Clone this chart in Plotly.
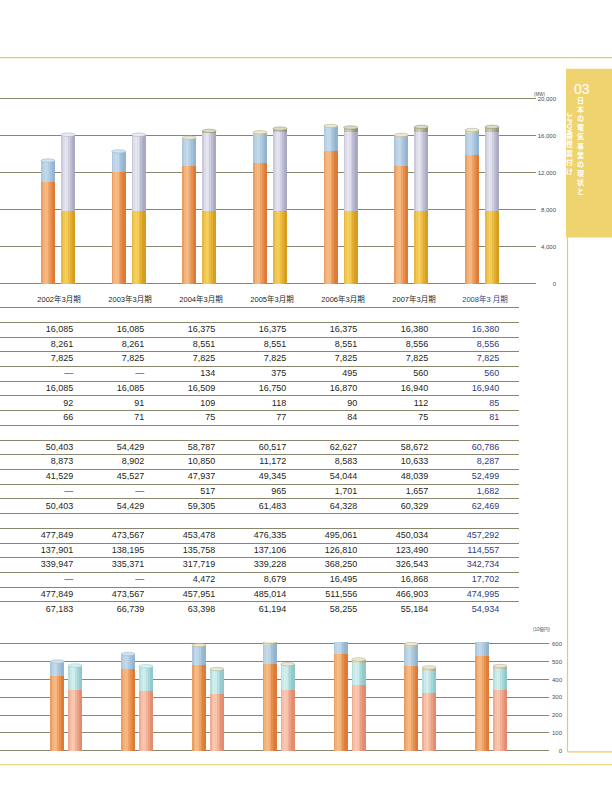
import math
import plotly.graph_objects as go

W, H = 612, 794

# ---------------- data ----------------
years = ["2002年3月期", "2003年3月期", "2004年3月期", "2005年3月期",
         "2006年3月期", "2007年3月期", "2008年3 月期"]

# capacity block (MW)
cap_total_a = [16085, 16085, 16375, 16375, 16375, 16380, 16380]
cap_hydro = [8261, 8261, 8551, 8551, 8551, 8556, 8556]
cap_thermal = [7825, 7825, 7825, 7825, 7825, 7825, 7825]
cap_other = [None, None, 134, 375, 495, 560, 560]
cap_total = [16085, 16085, 16509, 16750, 16870, 16940, 16940]
cap_row6 = [92, 91, 109, 118, 90, 112, 85]
cap_row7 = [66, 71, 75, 77, 84, 75, 81]

# energy block
en_total_a = [50403, 54429, 58787, 60517, 62627, 58672, 60786]
en_hydro = [8873, 8902, 10850, 11172, 8583, 10633, 8287]
en_thermal = [41529, 45527, 47937, 49345, 54044, 48039, 52499]
en_other = [None, None, 517, 965, 1701, 1657, 1682]
en_total = [50403, 54429, 59305, 61483, 64328, 60329, 62469]

# revenue block (million yen)
rev_total_a = [477849, 473567, 453478, 476335, 495061, 450034, 457292]
rev_hydro = [137901, 138195, 135758, 137106, 126810, 123490, 114557]
rev_thermal = [339947, 335371, 317719, 339228, 368250, 326543, 342734]
rev_other = [None, None, 4472, 8679, 16495, 16868, 17702]
rev_total = [477849, 473567, 457951, 485014, 511556, 466903, 474995]
rev_row6 = [67183, 66739, 63398, 61194, 58255, 55184, 54934]

# top chart, left cylinders (MW)
topL_base = [11030, 12050, 12750, 13120, 14380, 12755, 13910]
topL_mid = [2270, 2240, 2850, 3060, 2420, 3070, 2450]
topL_cap = [None, None, 170, 170, 240, 240, 240]

# bottom chart, left cylinders (10億円)
botL_base = [418, 460, 483, 488, 543, 477, 530]
botL_mid = [82, 82, 100, 106, 82, 106, 80]
botL_cap = [None, None, 9, 16, 15, 15, 15]

# bottom chart, right cylinders (10億円) from the revenue block
botR_base = [v / 1000 for v in rev_thermal]
botR_mid = [v / 1000 for v in rev_hydro]
botR_cap = [None if v is None else v / 1000 for v in rev_other]

top_ticks = [0, 4000, 8000, 12000, 16000, 20000]
bot_ticks = [0, 100, 200, 300, 400, 500, 600]

tab_number = "03"
tab_col_right = "日本の電気事業の現状と"
tab_col_left_latin = "J-POWER"
tab_col_left_kana = "の位置付け"

# ---------------- helpers ----------------
def fx(p):
    return p / W

def fy(p):
    return 1 - p / H

def hex2rgb(h):
    h = h.lstrip('#')
    return [int(h[i:i + 2], 16) for i in (0, 2, 4)]

def mix(c1, c2, t):
    a, b = hex2rgb(c1), hex2rgb(c2)
    return 'rgb(%d,%d,%d)' % tuple(round(a[i] + (b[i] - a[i]) * t) for i in range(3))

GRID = '#8a876f'
GOLD = '#e8cb62'
FONT = 'Liberation Sans, Noto Sans CJK JP, sans-serif'

fig = go.Figure()
idx = list(range(len(years)))

# axis geometry (pixel anchors)
TOP = dict(c0=58.0, step=70.67, d0=0, d1=536, v0=0, p0=283.3, v1=20000, p1=97.8, lo=-200, hi=20200)
BOT = dict(c0=66.3, step=70.8, d0=0, d1=549, v0=0, p0=751.7, v1=600, p1=644.3, lo=-10, hi=610)
TAB = dict(c0=59.0, step=71.0, d0=0, d1=519)

def xr(g):
    return [(g['d0'] - g['c0']) / g['step'], (g['d1'] - g['c0']) / g['step']], [fx(g['d0']), fx(g['d1'])]

def yr(g):
    k = (g['p1'] - g['p0']) / (g['v1'] - g['v0'])
    plo = g['p0'] + (g['lo'] - g['v0']) * k
    phi = g['p0'] + (g['hi'] - g['v0']) * k
    return [g['lo'], g['hi']], [fy(plo), fy(phi)], -k

shapes = []

def cylinders(xa, ya, g, segs, off_px, w_px):
    """segs: list of (values, light, dark). Stacked cylinders drawn as shaded strips."""
    n = 8
    sw = w_px / n
    base = [0.0] * len(idx)
    tops = [0.0] * len(idx)
    for vals, light, dark in segs:
        bs = list(base)
        for k in range(n):
            t = (k + 0.5) / n
            inten = math.exp(-((t - 0.33) / 0.36) ** 2)
            col = mix(dark, light, inten)
            extra = 0.7 if k < n - 1 else 0
            fig.add_trace(go.Bar(
                x=idx, y=vals, base=bs,
                offset=(off_px + k * sw) / g['step'], width=(sw + extra) / g['step'],
                marker=dict(color=col, line=dict(width=0)),
                xaxis=xa, yaxis=ya, showlegend=False, hoverinfo='skip'))
        for i, v in enumerate(vals):
            if v is not None:
                base[i] += v
                tops[i] = base[i]
    # top ellipse faces
    _, _, kpx = yr(g)
    eh = 1.7 / kpx
    for i in idx:
        last = None
        for vals, light, dark in segs:
            if vals[i] is not None:
                last = (light, dark)
        shapes.append(dict(
            type='circle', xref=xa, yref=ya, layer='above',
            x0=i + off_px / g['step'], x1=i + (off_px + w_px) / g['step'],
            y0=tops[i] - eh, y1=tops[i] + eh,
            fillcolor=mix(last[0], '#ffffff', 0.25), line=dict(width=0.6, color=mix(last[1], '#ffffff', 0.1))))

# ---------------- top chart ----------------
ORANGE = ('#f6bb85', '#dc7630')
BLUE = ('#c4d9ea', '#8fb2cf')
OLIVE_L = ('#e2e2c8', '#a9a98c')
GOLDB = ('#f6cf5e', '#d69a18')
LAV = ('#e6e6f0', '#a5a5c0')
OLIVE_R = ('#cfcfb0', '#8e8e6c')

cylinders('x', 'y', TOP, [(topL_base, *ORANGE), (topL_mid, *BLUE), (topL_cap, *OLIVE_L)], -17, 14)
cylinders('x', 'y', TOP, [(cap_thermal, *GOLDB), (cap_hydro, *LAV), (cap_other, *OLIVE_R)], 3, 14)

# ---------------- bottom chart ----------------
SALMON = ('#f9c8b0', '#e2876a')
TEAL = ('#d2eeee', '#8cc7c9')
cylinders('x3', 'y3', BOT, [(botL_base, *ORANGE), (botL_mid, *BLUE), (botL_cap, *OLIVE_L)], -16, 14)
cylinders('x3', 'y3', BOT, [(botR_base, *SALMON), (botR_mid, *TEAL), (botR_cap, *OLIVE_L)], 2, 14)

# ---------------- table ----------------
def fmt(v):
    return '—' if v is None else f'{v:,}'

table_rows = [
    (2, cap_total_a), (3, cap_hydro), (4, cap_thermal), (5, cap_other),
    (6, cap_total), (7, cap_row6), (8, cap_row7),
    (10, en_total_a), (11, en_hydro), (12, en_thermal), (13, en_other), (14, en_total),
    (16, rev_total_a), (17, rev_hydro), (18, rev_thermal), (19, rev_other),
    (20, rev_total), (21, rev_row6),
]
NROWS = 22
redge = 14.2 / TAB['step']
for color, cols in (('#231f20', range(6)), ('#2e3d82', [6])):
    xs, ys, ts = [], [], []
    for r, vals in table_rows:
        for j in cols:
            xs.append(j + redge)
            ys.append(r + 0.5)
            ts.append(fmt(vals[j]))
    fig.add_trace(go.Scatter(x=xs, y=ys, text=ts, mode='text', textposition='middle left',
                             textfont=dict(family=FONT, size=9, color=color),
                             xaxis='x2', yaxis='y2', showlegend=False, hoverinfo='skip'))
fig.add_trace(go.Scatter(x=idx, y=[0.5] * len(idx), text=years, mode='text', textposition='middle center',
                         textfont=dict(family=FONT, size=7.5,
                                       color=['#231f20'] * 6 + ['#2e3d82']),
                         xaxis='x2', yaxis='y2', showlegend=False, hoverinfo='skip'))

# ---------------- axes ----------------
txr, txd = xr(TOP)
tyr, tyd, _ = yr(TOP)
bxr, bxd = xr(BOT)
byr, byd, _ = yr(BOT)
axr, axd = xr(TAB)
p_top, p_bot = 292.7, 617.2
rstep = (p_bot - p_top) / NROWS
tab_yd = [fy(p_bot + 0.05 * rstep), fy(p_top - 0.05 * rstep)]

tickfont = dict(family=FONT, size=6, color='#4d4d4d')
common_x = dict(showgrid=False, zeroline=False, showticklabels=False, ticks='', showline=False, fixedrange=True)

fig.update_layout(
    width=W, height=H, margin=dict(l=0, r=0, t=0, b=0),
    paper_bgcolor='white', plot_bgcolor='rgba(0,0,0,0)',
    barmode='overlay', bargap=0, showlegend=False,
    xaxis=dict(domain=txd, range=txr, anchor='y', **common_x),
    yaxis=dict(domain=tyd, range=tyr, anchor='free', position=fx(557), side='left',
               tickvals=top_ticks, tickformat=',d', tickfont=tickfont, ticks='',
               showgrid=True, gridcolor=GRID, gridwidth=1, zeroline=False, showline=False,
               ticklabelstandoff=1),
    xaxis2=dict(domain=axd, range=axr, anchor='y2', **common_x),
    yaxis2=dict(domain=tab_yd, range=[NROWS + 0.05, -0.05], anchor='x2',
                tickvals=list(range(NROWS + 1)), showticklabels=False, ticks='',
                showgrid=True, gridcolor=GRID, gridwidth=1, zeroline=False, showline=False),
    xaxis3=dict(domain=bxd, range=bxr, anchor='y3', **common_x),
    yaxis3=dict(domain=byd, range=byr, anchor='free', position=fx(563), side='left',
                tickvals=bot_ticks, tickfont=tickfont, ticks='',
                showgrid=True, gridcolor=GRID, gridwidth=1, zeroline=False, showline=False,
                ticklabelstandoff=1),
)

# ---------------- page furniture ----------------
def line(x0, y0, x1, y1, color=GOLD, w=1.2):
    shapes.append(dict(type='line', xref='paper', yref='paper', x0=fx(x0), y0=fy(y0), x1=fx(x1), y1=fy(y1),
                       line=dict(color=color, width=w), layer='below'))

line(0, 56.7, W, 56.7)
line(0, 765.7, W, 765.7)
line(567.5, 237, 567.5, 752.7)
line(567.5, 752.7, W, 752.7)
shapes.append(dict(type='rect', xref='paper', yref='paper', x0=fx(566), x1=fx(W), y0=fy(237), y1=fy(68),
                   fillcolor='#efd36f', line=dict(width=0), layer='below'))

ann = []
ann.append(dict(text='(MW)', x=fx(547), y=fy(89.3), xref='paper', yref='paper', showarrow=False,
                font=dict(family=FONT, size=4.5, color='#4d4d4d')))
ann.append(dict(text='(10億円)', x=fx(553), y=fy(635.5), xref='paper', yref='paper', showarrow=False,
                font=dict(family=FONT, size=4.5, color='#4d4d4d')))
ann.append(dict(text=tab_number, x=fx(572), y=fy(78.5), xref='paper', yref='paper', showarrow=False,
                xanchor='left', font=dict(family='Liberation Sans, sans-serif', size=14, color='white')))

tab_font = dict(family='Noto Sans CJK JP', size=7, color='white', weight=700)
ann.append(dict(text='<br>'.join(tab_col_right), x=fx(586), y=fy(92), yanchor='top',
                xref='paper', yref='paper', showarrow=False, font=tab_font))
ann.append(dict(text=tab_col_left_latin, x=fx(574.5), y=fy(109.5), textangle=90,
                xref='paper', yref='paper', showarrow=False,
                font=dict(family='Liberation Sans, sans-serif', size=7, color='white', weight=700)))
ann.append(dict(text='<br>'.join(tab_col_left_kana), x=fx(574.5), y=fy(127.5), yanchor='top',
                xref='paper', yref='paper', showarrow=False, font=tab_font))

fig.update_layout(shapes=shapes, annotations=ann)
fig.write_html('out.html', config={'displayModeBar': False},
               post_script="document.body.style.margin='0';document.body.style.padding='0';")
